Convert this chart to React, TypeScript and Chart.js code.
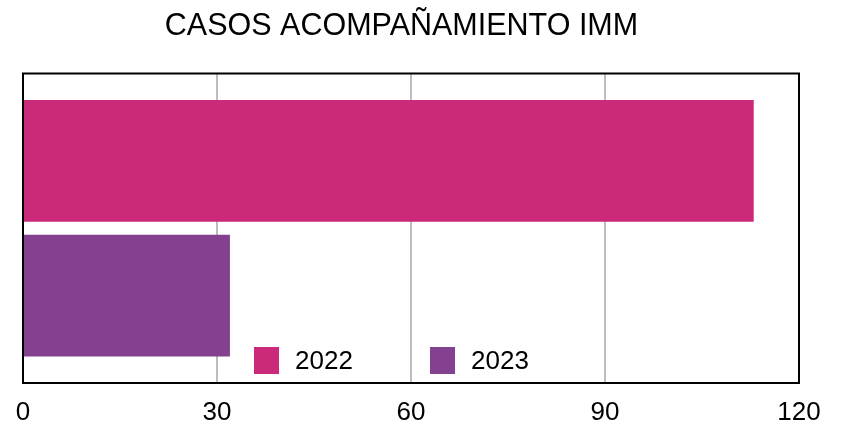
import React, { useEffect, useRef } from "react";
import { Chart, registerables } from "chart.js";

Chart.register(...registerables);

const TITLE = "CASOS ACOMPAÑAMIENTO IMM";
const categories = [""];
const seriesLabels = ["2022", "2023"];
const values2022 = [113];
const values2023 = [32];
const seriesColors = ["#CB2A7B", "#84418F"];
const xTicks = [0, 30, 60, 90, 120];

const FONT = "'Liberation Sans', Arial, Helvetica, sans-serif";

const framePlugin = {
  id: "frameAndLegend",
  afterDatasetsDraw(chart: any) {
    const { ctx, chartArea } = chart;
    ctx.save();
    ctx.strokeStyle = "#000";
    ctx.lineWidth = 2;
    ctx.strokeRect(chartArea.left, chartArea.top, chartArea.right - chartArea.left, chartArea.bottom - chartArea.top);
    // legend inside plot area
    const boxW = 25;
    const boxH = 27;
    const startX = chartArea.left + 231;
    const itemGap = 176;
    const cy = chartArea.bottom - 22.5;
    ctx.font = `26px ${FONT}`;
    ctx.textBaseline = "middle";
    ctx.textAlign = "left";
    chart.data.datasets.forEach((ds: any, i: number) => {
      const x = startX + i * itemGap;
      ctx.fillStyle = ds.backgroundColor;
      ctx.fillRect(x, cy - boxH / 2, boxW, boxH);
      ctx.fillStyle = "#000";
      ctx.fillText(ds.label, x + 41, cy + 1);
    });
    // title
    ctx.font = `30.5px ${FONT}`;
    ctx.textAlign = "center";
    ctx.textBaseline = "alphabetic";
    ctx.fillStyle = "#000";
    ctx.fillText(TITLE, (chartArea.left + chartArea.right) / 2 - 9.5, 35);
    ctx.restore();
  },
};

export default function App() {
  const ref = useRef<HTMLCanvasElement>(null);
  useEffect(() => {
    if (!ref.current) return;
    const chart = new Chart(ref.current, {
      type: "bar",
      data: {
        labels: categories,
        datasets: [
          { label: seriesLabels[0], data: values2022, backgroundColor: seriesColors[0] },
          { label: seriesLabels[1], data: values2023, backgroundColor: seriesColors[1] },
        ],
      },
      options: {
        indexAxis: "y",
        responsive: false,
        animation: false,
        datasets: {
          bar: { categoryPercentage: 0.871, barPercentage: 0.904 },
        },
        layout: { padding: { left: 23, right: 44, top: 73.5, bottom: 0 } },
        plugins: {
          legend: { display: false },
          title: { display: false },
          tooltip: { enabled: false },
        },
        scales: {
          x: {
            min: 0,
            max: 120,
            afterBuildTicks: (axis: any) => {
              axis.ticks = xTicks.map((v) => ({ value: v }));
            },
            afterFit: (axis: any) => {
              axis.height = 43;
            },
            grid: { color: "#BDBDBD", lineWidth: 2, drawTicks: false },
            border: { display: false },
            ticks: { color: "#000", font: { size: 26, family: FONT }, padding: 14, maxRotation: 0 },
          },
          y: {
            display: false,
          },
        },
      },
      plugins: [framePlugin],
    });
    return () => chart.destroy();
  }, []);
  return (
    <div style={{ position: "absolute", left: 0, top: 0, width: 843, height: 426 }}>
      <canvas ref={ref} width={843} height={426} style={{ width: 843, height: 426 }} />
    </div>
  );
}
